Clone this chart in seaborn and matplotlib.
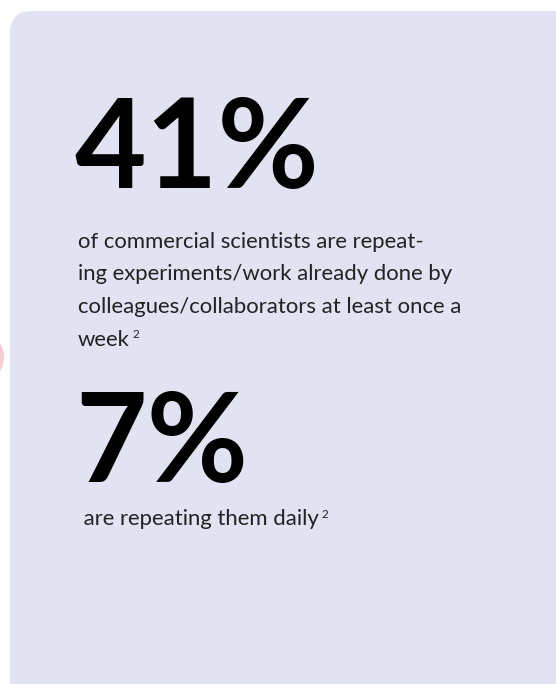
import matplotlib
matplotlib.use("Agg")
import matplotlib.pyplot as plt
import seaborn as sns
from matplotlib.patches import FancyBboxPatch, Ellipse

sns.set_theme(style="white")
plt.rcParams['font.family'] = ['Lato', 'DejaVu Sans']

# data
stat_values = ["41%", "7%"]
stat_lines = [
    ["of commercial scientists are repeat-",
     "ing experiments/work already done by",
     "colleagues/collaborators at least once a",
     "week"],
    [" are repeating them daily"],
]
footnote = "2"

W, H = 556, 684
fig = plt.figure(figsize=(W / 100, H / 100), dpi=100)
fig.patch.set_facecolor("white")
ax = fig.add_axes([0, 0, 1, 1])
ax.set_xlim(0, W)
ax.set_ylim(H, 0)
ax.axis("off")

# pink decoration at left edge
ax.add_patch(Ellipse((-30, 357), 68, 60, facecolor="#F7CDD5", edgecolor="none", zorder=0))
# card
ax.add_patch(FancyBboxPatch((10, 11), 580, 720, boxstyle="round,pad=0,rounding_size=22",
                            facecolor="#E1E3F2", edgecolor="none", zorder=1))

big_y = [188, 482]
text_y0 = [248, 525]
line_h = 32.5

fig.canvas.draw()
renderer = fig.canvas.get_renderer()

for val, lines, by, ty in zip(stat_values, stat_lines, big_y, text_y0):
    ax.text(75, by, val, fontsize=89, fontweight="bold", color="black",
            ha="left", va="baseline", zorder=3)
    for i, ln in enumerate(lines):
        t = ax.text(78, ty + i * line_h, ln, fontsize=15.9, color="#222222",
                    ha="left", va="baseline", zorder=3)
        if i == len(lines) - 1:
            bb = t.get_window_extent(renderer)
            x_end = ax.transData.inverted().transform((bb.x1, bb.y0))[0]
            ax.text(x_end + 3, ty + i * line_h - 7, footnote, fontsize=8.5,
                    color="#222222", ha="left", va="baseline", zorder=3)

fig.savefig("out.png", dpi=100, facecolor="white")
